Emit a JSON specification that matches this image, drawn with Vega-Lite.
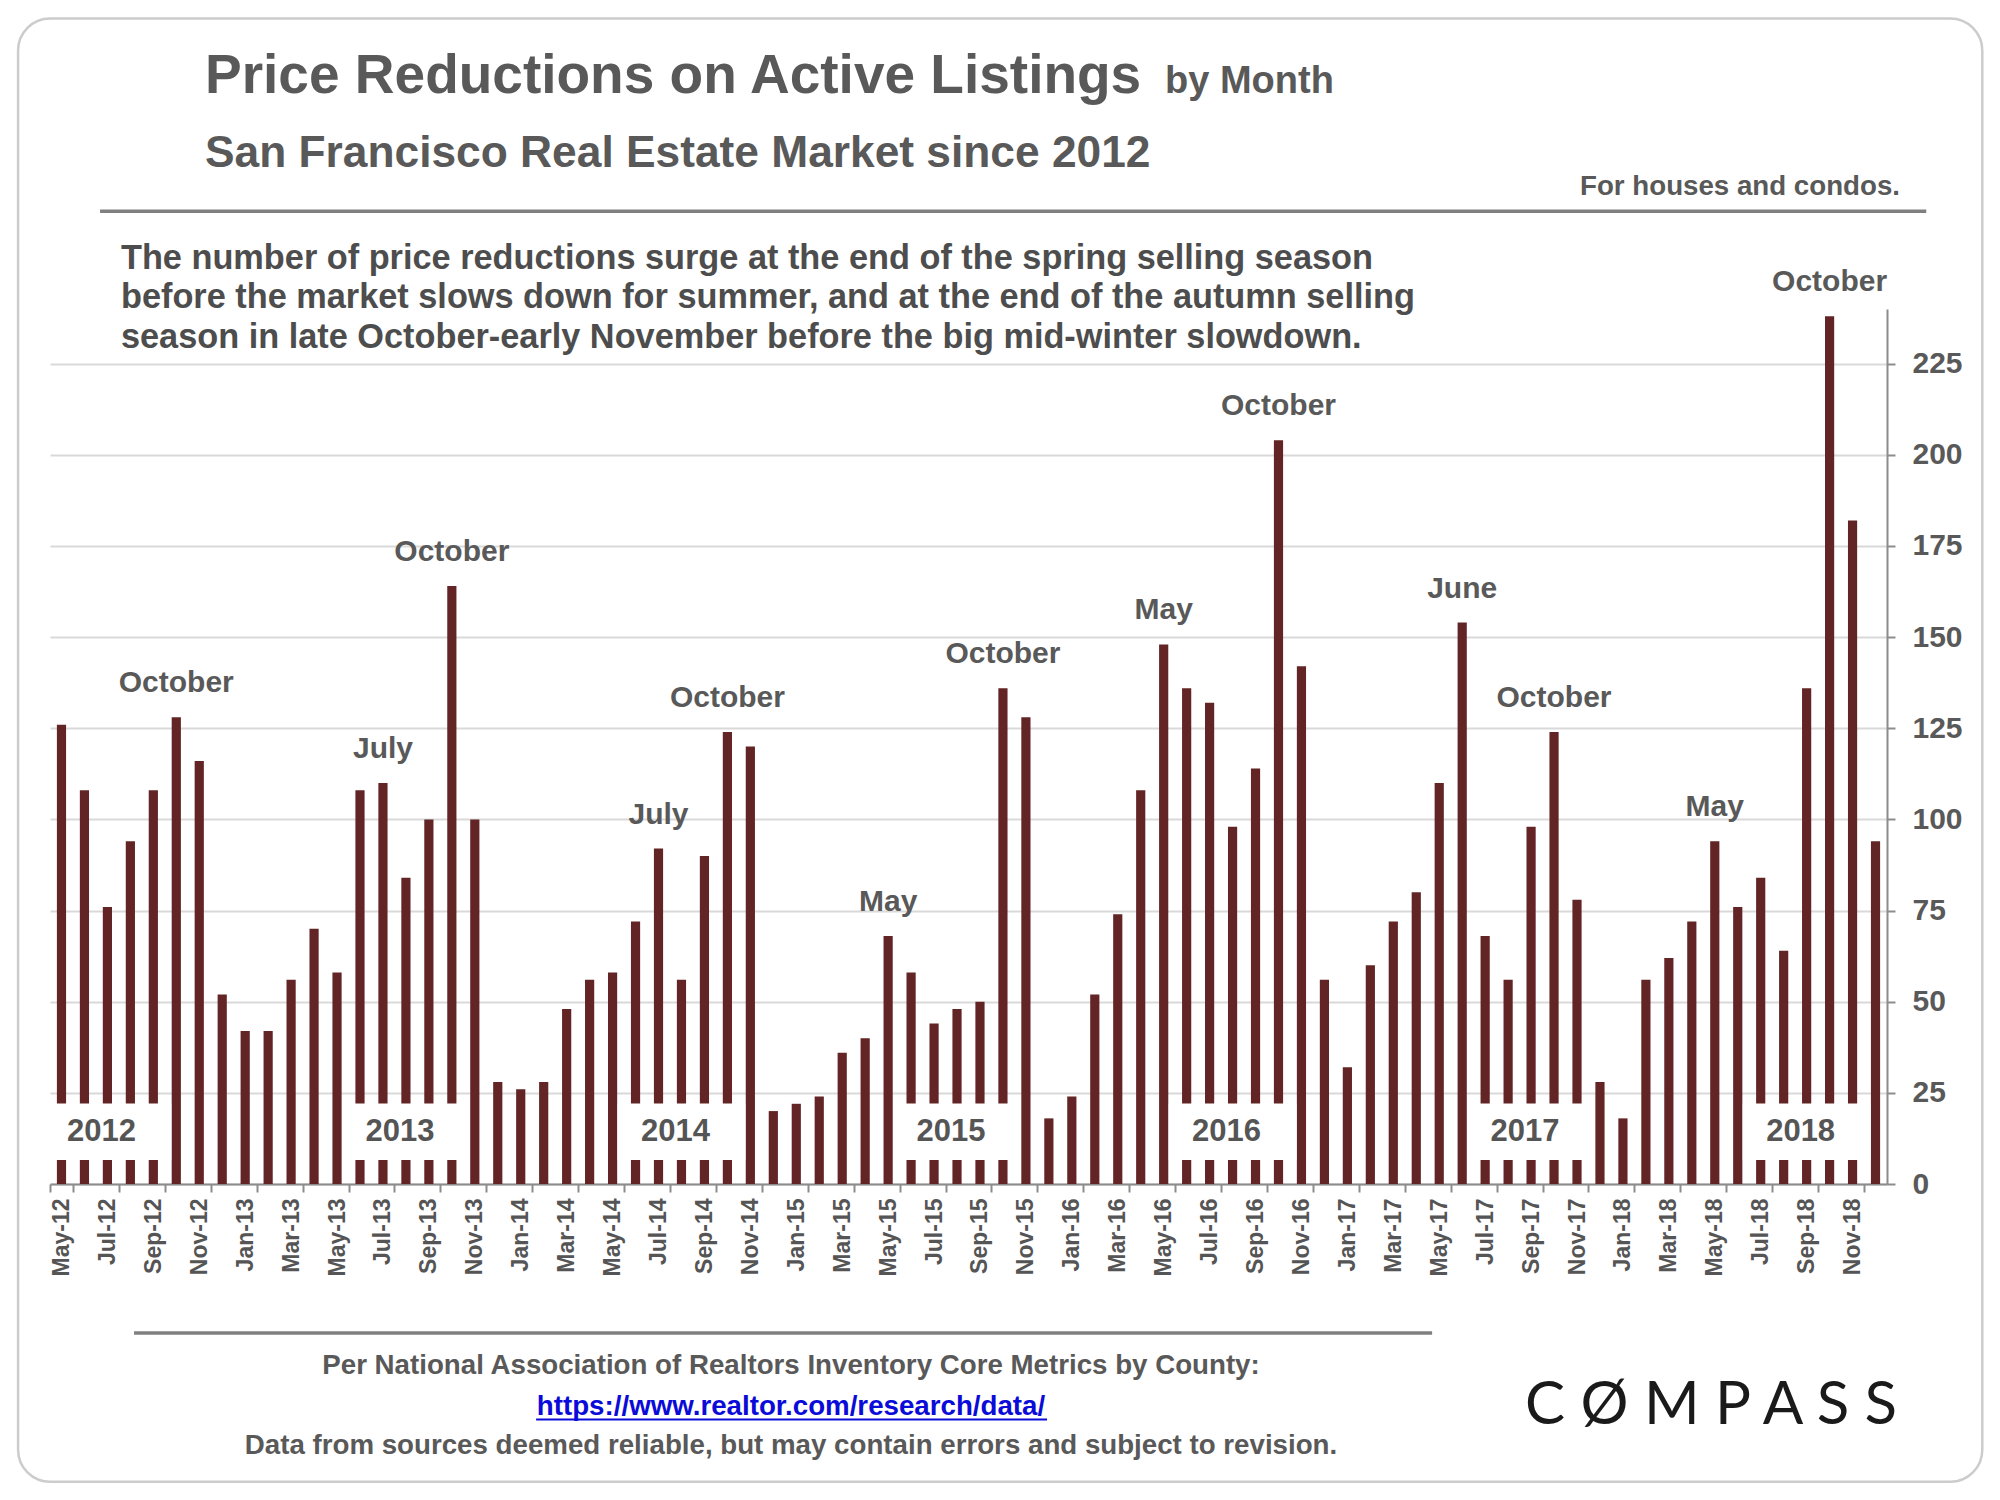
{
  "$schema": "https://vega.github.io/schema/vega-lite/v6.json",
  "width": 1837,
  "height": 875,
  "autosize": "none",
  "padding": {"left": 50, "top": 309, "right": 113, "bottom": 316},
  "background": "white",
  "config": {"font": "Liberation Sans", "view": {"stroke": null}},
  "datasets": {
    "months": [
      {"month": "May-12", "value": 126, "label": null},
      {"month": "Jun-12", "value": 108, "label": null},
      {"month": "Jul-12", "value": 76, "label": null},
      {"month": "Aug-12", "value": 94, "label": null},
      {"month": "Sep-12", "value": 108, "label": null},
      {"month": "Oct-12", "value": 128, "label": "October"},
      {"month": "Nov-12", "value": 116, "label": null},
      {"month": "Dec-12", "value": 52, "label": null},
      {"month": "Jan-13", "value": 42, "label": null},
      {"month": "Feb-13", "value": 42, "label": null},
      {"month": "Mar-13", "value": 56, "label": null},
      {"month": "Apr-13", "value": 70, "label": null},
      {"month": "May-13", "value": 58, "label": null},
      {"month": "Jun-13", "value": 108, "label": null},
      {"month": "Jul-13", "value": 110, "label": "July"},
      {"month": "Aug-13", "value": 84, "label": null},
      {"month": "Sep-13", "value": 100, "label": null},
      {"month": "Oct-13", "value": 164, "label": "October"},
      {"month": "Nov-13", "value": 100, "label": null},
      {"month": "Dec-13", "value": 28, "label": null},
      {"month": "Jan-14", "value": 26, "label": null},
      {"month": "Feb-14", "value": 28, "label": null},
      {"month": "Mar-14", "value": 48, "label": null},
      {"month": "Apr-14", "value": 56, "label": null},
      {"month": "May-14", "value": 58, "label": null},
      {"month": "Jun-14", "value": 72, "label": null},
      {"month": "Jul-14", "value": 92, "label": "July"},
      {"month": "Aug-14", "value": 56, "label": null},
      {"month": "Sep-14", "value": 90, "label": null},
      {"month": "Oct-14", "value": 124, "label": "October"},
      {"month": "Nov-14", "value": 120, "label": null},
      {"month": "Dec-14", "value": 20, "label": null},
      {"month": "Jan-15", "value": 22, "label": null},
      {"month": "Feb-15", "value": 24, "label": null},
      {"month": "Mar-15", "value": 36, "label": null},
      {"month": "Apr-15", "value": 40, "label": null},
      {"month": "May-15", "value": 68, "label": "May"},
      {"month": "Jun-15", "value": 58, "label": null},
      {"month": "Jul-15", "value": 44, "label": null},
      {"month": "Aug-15", "value": 48, "label": null},
      {"month": "Sep-15", "value": 50, "label": null},
      {"month": "Oct-15", "value": 136, "label": "October"},
      {"month": "Nov-15", "value": 128, "label": null},
      {"month": "Dec-15", "value": 18, "label": null},
      {"month": "Jan-16", "value": 24, "label": null},
      {"month": "Feb-16", "value": 52, "label": null},
      {"month": "Mar-16", "value": 74, "label": null},
      {"month": "Apr-16", "value": 108, "label": null},
      {"month": "May-16", "value": 148, "label": "May"},
      {"month": "Jun-16", "value": 136, "label": null},
      {"month": "Jul-16", "value": 132, "label": null},
      {"month": "Aug-16", "value": 98, "label": null},
      {"month": "Sep-16", "value": 114, "label": null},
      {"month": "Oct-16", "value": 204, "label": "October"},
      {"month": "Nov-16", "value": 142, "label": null},
      {"month": "Dec-16", "value": 56, "label": null},
      {"month": "Jan-17", "value": 32, "label": null},
      {"month": "Feb-17", "value": 60, "label": null},
      {"month": "Mar-17", "value": 72, "label": null},
      {"month": "Apr-17", "value": 80, "label": null},
      {"month": "May-17", "value": 110, "label": null},
      {"month": "Jun-17", "value": 154, "label": "June"},
      {"month": "Jul-17", "value": 68, "label": null},
      {"month": "Aug-17", "value": 56, "label": null},
      {"month": "Sep-17", "value": 98, "label": null},
      {"month": "Oct-17", "value": 124, "label": "October"},
      {"month": "Nov-17", "value": 78, "label": null},
      {"month": "Dec-17", "value": 28, "label": null},
      {"month": "Jan-18", "value": 18, "label": null},
      {"month": "Feb-18", "value": 56, "label": null},
      {"month": "Mar-18", "value": 62, "label": null},
      {"month": "Apr-18", "value": 72, "label": null},
      {"month": "May-18", "value": 94, "label": "May"},
      {"month": "Jun-18", "value": 76, "label": null},
      {"month": "Jul-18", "value": 84, "label": null},
      {"month": "Aug-18", "value": 64, "label": null},
      {"month": "Sep-18", "value": 136, "label": null},
      {"month": "Oct-18", "value": 238, "label": "October"},
      {"month": "Nov-18", "value": 182, "label": null},
      {"month": "Dec-18", "value": 94, "label": null}
    ],
    "years": [
      {"year": "2012", "from": "May-12", "to": "Sep-12", "mid": "Jul-12"},
      {"year": "2013", "from": "Jun-13", "to": "Oct-13", "mid": "Aug-13"},
      {"year": "2014", "from": "Jun-14", "to": "Oct-14", "mid": "Aug-14"},
      {"year": "2015", "from": "Jun-15", "to": "Oct-15", "mid": "Aug-15"},
      {"year": "2016", "from": "Jun-16", "to": "Oct-16", "mid": "Aug-16"},
      {"year": "2017", "from": "Jul-17", "to": "Nov-17", "mid": "Sep-17"},
      {"year": "2018", "from": "Jul-18", "to": "Nov-18", "mid": "Sep-18"}
    ]
  },
  "layer": [
    {
      "data": {"name": "months"},
      "mark": {"type": "bar", "color": "#622424", "width": {"band": 0.4}},
      "encoding": {
        "x": {
          "field": "month",
          "type": "ordinal",
          "scale": {
            "domain": ["May-12","Jun-12","Jul-12","Aug-12","Sep-12","Oct-12","Nov-12","Dec-12","Jan-13","Feb-13","Mar-13","Apr-13","May-13","Jun-13","Jul-13","Aug-13","Sep-13","Oct-13","Nov-13","Dec-13","Jan-14","Feb-14","Mar-14","Apr-14","May-14","Jun-14","Jul-14","Aug-14","Sep-14","Oct-14","Nov-14","Dec-14","Jan-15","Feb-15","Mar-15","Apr-15","May-15","Jun-15","Jul-15","Aug-15","Sep-15","Oct-15","Nov-15","Dec-15","Jan-16","Feb-16","Mar-16","Apr-16","May-16","Jun-16","Jul-16","Aug-16","Sep-16","Oct-16","Nov-16","Dec-16","Jan-17","Feb-17","Mar-17","Apr-17","May-17","Jun-17","Jul-17","Aug-17","Sep-17","Oct-17","Nov-17","Dec-17","Jan-18","Feb-18","Mar-18","Apr-18","May-18","Jun-18","Jul-18","Aug-18","Sep-18","Oct-18","Nov-18","Dec-18"],
            "paddingInner": 0,
            "paddingOuter": 0
          },
          "axis": {
            "title": null,
            "values": ["May-12","Jul-12","Sep-12","Nov-12","Jan-13","Mar-13","May-13","Jul-13","Sep-13","Nov-13","Jan-14","Mar-14","May-14","Jul-14","Sep-14","Nov-14","Jan-15","Mar-15","May-15","Jul-15","Sep-15","Nov-15","Jan-16","Mar-16","May-16","Jul-16","Sep-16","Nov-16","Jan-17","Mar-17","May-17","Jul-17","Sep-17","Nov-17","Jan-18","Mar-18","May-18","Jul-18","Sep-18","Nov-18"],
            "tickBand": "extent",
            "labelAngle": -90,
            "labelAlign": "right",
            "labelBaseline": "middle",
            "labelFontSize": 23,
            "labelFontWeight": "bold",
            "labelColor": "#555555",
            "labelPadding": 6,
            "tickSize": 8,
            "tickColor": "#8c8c8c",
            "tickWidth": 2,
            "domainColor": "#8c8c8c",
            "domainWidth": 2,
            "grid": false
          }
        },
        "y": {
          "field": "value",
          "type": "quantitative",
          "scale": {"domain": [0, 240], "nice": false},
          "axis": {
            "title": null,
            "orient": "right",
            "values": [0, 25, 50, 75, 100, 125, 150, 175, 200, 225],
            "grid": true,
            "gridColor": "#d9d9d9",
            "gridWidth": 2,
            "labelFontSize": 30,
            "labelFontWeight": "bold",
            "labelColor": "#595959",
            "labelPadding": 17,
            "tickSize": 8,
            "tickColor": "#8c8c8c",
            "tickWidth": 2,
            "domainColor": "#8c8c8c",
            "domainWidth": 2
          }
        }
      }
    },
    {
      "data": {"name": "years"},
      "mark": {"type": "rect", "fill": "white"},
      "encoding": {
        "x": {"field": "from", "type": "ordinal", "bandPosition": -0.28},
        "x2": {"field": "to", "bandPosition": 1.28},
        "y": {"datum": 22.1, "type": "quantitative"},
        "y2": {"datum": 6.6}
      }
    },
    {
      "data": {"name": "years"},
      "mark": {"type": "text", "fontSize": 31, "fontWeight": "bold", "color": "#555555", "align": "center", "baseline": "middle", "dx": -6},
      "encoding": {
        "x": {"field": "mid", "type": "ordinal"},
        "y": {"datum": 14.4, "type": "quantitative"},
        "text": {"field": "year"}
      }
    },
    {
      "data": {"name": "months"},
      "transform": [{"filter": "datum.label != null"}],
      "mark": {"type": "text", "fontSize": 30, "fontWeight": "bold", "color": "#595959", "align": "center", "baseline": "alphabetic", "dy": -25},
      "encoding": {
        "x": {"field": "month", "type": "ordinal"},
        "y": {"field": "value", "type": "quantitative"},
        "text": {"field": "label"}
      }
    },
    {
      "data": {"values": [{}]},
      "mark": {"type": "rect", "fillOpacity": 0, "stroke": "#cccccc", "strokeWidth": 2.5, "cornerRadius": 32},
      "encoding": {
        "x": {"datum": "May-12", "bandPosition": -1.39},
        "x2": {"datum": "Dec-18", "bandPosition": 5.15},
        "y": {"datum": 319.7, "type": "quantitative"},
        "y2": {"datum": -81.7}
      }
    },
    {
      "data": {"values": [{}]},
      "mark": {"type": "text", "text": "Price Reductions on Active Listings", "fontSize": 55, "fontWeight": "bold", "color": "#595959", "align": "left", "baseline": "alphabetic"},
      "encoding": {
        "x": {"datum": "Nov-12", "bandPosition": 0.75},
        "y": {"datum": 299.2, "type": "quantitative"}
      }
    },
    {
      "data": {"values": [{}]},
      "mark": {"type": "text", "text": "by Month", "fontSize": 38, "fontWeight": "bold", "color": "#595959", "align": "left", "baseline": "alphabetic"},
      "encoding": {
        "x": {"datum": "May-16", "bandPosition": 0.56},
        "y": {"datum": 299.2, "type": "quantitative"}
      }
    },
    {
      "data": {"values": [{}]},
      "mark": {"type": "text", "text": "San Francisco Real Estate Market since 2012", "fontSize": 44.3, "fontWeight": "bold", "color": "#595959", "align": "left", "baseline": "alphabetic"},
      "encoding": {
        "x": {"datum": "Nov-12", "bandPosition": 0.75},
        "y": {"datum": 278.9, "type": "quantitative"}
      }
    },
    {
      "data": {"values": [{}]},
      "mark": {"type": "text", "text": "For houses and condos.", "fontSize": 27.7, "fontWeight": "bold", "color": "#595959", "align": "right", "baseline": "alphabetic", "dx": 13},
      "encoding": {
        "x": {"datum": "Dec-18", "bandPosition": 1},
        "y": {"datum": 271.2, "type": "quantitative"}
      }
    },
    {
      "data": {"values": [{}]},
      "mark": {"type": "rule", "color": "#808080", "strokeWidth": 3.5},
      "encoding": {
        "x": {"datum": "Jul-12", "bandPosition": 0.18},
        "x2": {"datum": "Dec-18", "bandPosition": 2.71},
        "y": {"datum": 266.8, "type": "quantitative"}
      }
    },
    {
      "data": {"values": [{}]},
      "mark": {"type": "text", "text": ["The number of price reductions surge at the end of the spring selling season", "before the market slows down for summer, and at the end of the autumn selling", "season in late October-early November before the big mid-winter slowdown."], "fontSize": 34.3, "fontWeight": "bold", "color": "#4d4d4d", "align": "left", "baseline": "alphabetic", "lineHeight": 39.5},
      "encoding": {
        "x": {"datum": "Aug-12", "bandPosition": 0.09},
        "y": {"datum": 251.0, "type": "quantitative"}
      }
    },
    {
      "data": {"values": [{}]},
      "mark": {"type": "rule", "color": "#808080", "strokeWidth": 3.5},
      "encoding": {
        "x": {"datum": "Aug-12", "bandPosition": 0.66},
        "x2": {"datum": "May-17", "bandPosition": 0.19},
        "y": {"datum": -40.9, "type": "quantitative"}
      }
    },
    {
      "data": {"values": [{}]},
      "mark": {"type": "text", "text": "Per National Association of Realtors Inventory Core Metrics by County:", "fontSize": 27.7, "fontWeight": "bold", "color": "#595959", "align": "center", "baseline": "middle"},
      "encoding": {
        "x": {"datum": "Jan-15", "bandPosition": 0.27},
        "y": {"datum": -49.9, "type": "quantitative"}
      }
    },
    {
      "data": {"values": [{}]},
      "mark": {"type": "text", "text": "https://www.realtor.com/research/data/", "fontSize": 27.7, "fontWeight": "bold", "color": "#0b0bd9", "align": "center", "baseline": "middle"},
      "encoding": {
        "x": {"datum": "Jan-15", "bandPosition": 0.27},
        "y": {"datum": -61.1, "type": "quantitative"}
      }
    },
    {
      "data": {"values": [{}]},
      "mark": {"type": "rule", "color": "#0b0bd9", "strokeWidth": 1.8},
      "encoding": {
        "x": {"datum": "Feb-14", "bandPosition": 0.17},
        "x2": {"datum": "Dec-15", "bandPosition": 0.42},
        "y": {"datum": -64.6, "type": "quantitative"}
      }
    },
    {
      "data": {"values": [{}]},
      "mark": {"type": "text", "text": "Data from sources deemed reliable, but may contain errors and subject to revision.", "fontSize": 27.7, "fontWeight": "bold", "color": "#595959", "align": "center", "baseline": "middle"},
      "encoding": {
        "x": {"datum": "Jan-15", "bandPosition": 0.27},
        "y": {"datum": -71.8, "type": "quantitative"}
      }
    },
    {
      "data": {"values": [{}]},
      "mark": {"type": "text", "text": "C Ø M P A S S", "font": "Lato", "fontSize": 60, "fontWeight": "normal", "color": "#1a1a1a", "align": "center", "baseline": "middle"},
      "encoding": {
        "x": {"datum": "May-18", "bandPosition": 0.34},
        "y": {"datum": -60.9, "type": "quantitative"}
      }
    }
  ]
}
